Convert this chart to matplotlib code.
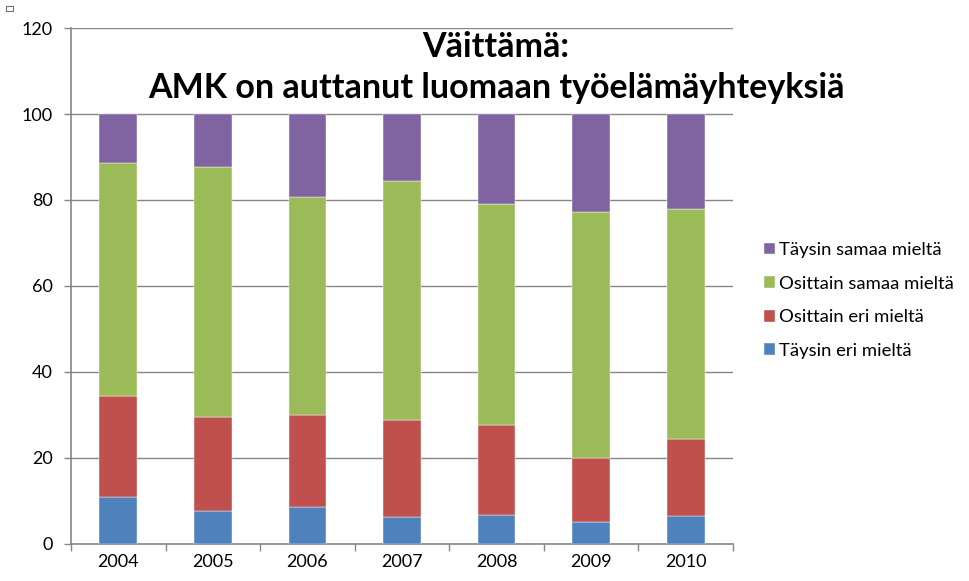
import matplotlib
matplotlib.use("Agg")
import numpy as np
import matplotlib.pyplot as plt
from matplotlib.patches import Rectangle

years = ['2004', '2005', '2006', '2007', '2008', '2009', '2010']
taysin_eri = [11.0, 7.7, 8.6, 6.2, 6.7, 5.0, 6.4]
osittain_eri = [23.5, 21.8, 21.3, 22.7, 21.0, 15.1, 18.1]
osittain_samaa = [54.0, 58.1, 50.8, 55.5, 51.4, 57.2, 53.4]
taysin_samaa = [11.5, 12.4, 19.3, 15.6, 20.9, 22.7, 22.1]

series = [
    ('Täysin eri mieltä', taysin_eri, '#4F81BD'),
    ('Osittain eri mieltä', osittain_eri, '#C0504D'),
    ('Osittain samaa mieltä', osittain_samaa, '#9BBB59'),
    ('Täysin samaa mieltä', taysin_samaa, '#8064A2'),
]

plt.rcParams['font.family'] = ['Lato', 'DejaVu Sans']
axis_col = '#868686'

fig = plt.figure(figsize=(9.69, 5.81), dpi=100)
ax = fig.add_axes([0.0733, 0.0637, 0.6831, 0.8881])

x = np.arange(len(years))
bottom = np.zeros(len(years))
handles = []
for label, vals, col in series:
    b = ax.bar(x, vals, width=0.40, bottom=bottom, color=col,
               edgecolor='white', linewidth=0.3, label=label, zorder=3)
    handles.append(b)
    bottom += np.array(vals)

ax.set_xlim(-0.5, len(years) - 0.5)
ax.set_ylim(0, 120)
ax.set_yticks(np.arange(0, 121, 20))
ax.yaxis.grid(True, color=axis_col, linewidth=1.0, zorder=0)

# categories labelled at centre, ticks drawn at boundaries
ax.set_xticks(x)
ax.set_xticklabels(years, fontsize=13)
ax.set_xticks(np.arange(-0.5, len(years), 1.0), minor=True)
ax.tick_params(axis='x', which='major', length=0, pad=7)
ax.tick_params(axis='x', which='minor', length=5, color=axis_col, width=1)
ax.tick_params(axis='y', length=5, color=axis_col, width=1, labelsize=13, pad=8)

for side in ['top', 'right']:
    ax.spines[side].set_visible(False)
for side in ['left', 'bottom']:
    ax.spines[side].set_color(axis_col)
    ax.spines[side].set_linewidth(1.2)

fig.text(0.512, 0.946, 'Väittämä:\nAMK on auttanut luomaan työelämäyhteyksiä',
         ha='center', va='top', fontsize=24.5, fontweight='bold',
         linespacing=1.32, zorder=5)

leg = fig.legend(handles[::-1], [s[0] for s in series][::-1],
                 loc='upper left', bbox_to_anchor=(0.771, 0.612),
                 frameon=False, fontsize=13.3, handlelength=0.6,
                 handleheight=0.6, handletextpad=0.25, labelspacing=0.95)

# small marker in the top-left corner
fig.patches.append(Rectangle((0.006, 0.981), 0.007, 0.008,
                             transform=fig.transFigure, fill=False,
                             edgecolor='#707070', linewidth=0.8))

fig.savefig('out.png', dpi=100)
